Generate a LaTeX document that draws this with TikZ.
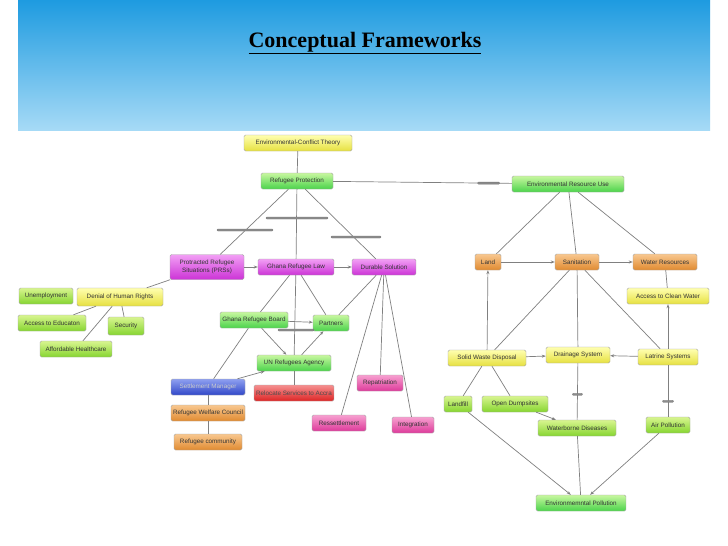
\documentclass[tikz,border=0pt]{standalone}
\usepackage{fontspec}
\setmainfont{Liberation Serif}
\newfontfamily\boxfont{Liberation Sans}
\usetikzlibrary{arrows.meta}
\definecolor{gA}{HTML}{C8F7A0}\definecolor{gB}{HTML}{4BD34B}
\definecolor{yA}{HTML}{FFFFB0}\definecolor{yB}{HTML}{E6E040}
\definecolor{mA}{HTML}{F2A0F5}\definecolor{mB}{HTML}{CC33D6}
\definecolor{pA}{HTML}{F7A0D0}\definecolor{pB}{HTML}{DD3A9A}
\definecolor{oA}{HTML}{F8C890}\definecolor{oB}{HTML}{E08A30}
\definecolor{lA}{HTML}{D8F590}\definecolor{lB}{HTML}{86D530}
\definecolor{bA}{HTML}{8FA0F0}\definecolor{bB}{HTML}{3047C8}
\definecolor{rA}{HTML}{F59090}\definecolor{rB}{HTML}{DD2525}
\definecolor{hA}{HTML}{1E9BE0}\definecolor{hB}{HTML}{A6DAF6}
\tikzset{
 x=1pt,y=-1pt,
 box/.style={rounded corners=1.5pt,draw=black!35,line width=0.4pt,font=\boxfont\fontsize{6.3}{7.3}\selectfont,inner sep=1pt,align=center,text=black!80,minimum height=16pt},
 grn/.style={box,top color=gA,bottom color=gB},
 lgr/.style={box,top color=lA,bottom color=lB},
 yel/.style={box,top color=yA,bottom color=yB},
 mag/.style={box,top color=mA,bottom color=mB},
 pnk/.style={box,top color=pA,bottom color=pB},
 org/.style={box,top color=oA,bottom color=oB},
 blu/.style={box,top color=bA,bottom color=bB,text=white!80!black},
 red/.style={box,top color=rA,bottom color=rB,text=black!70},
 ln/.style={draw=black!50,line width=0.7pt},
 ar/.style={ln,-{Stealth[length=4pt,width=3pt]}},
 bar/.style={fill=black!45,draw=black!55,line width=0.3pt,rounded corners=0.8pt,minimum width=#1,minimum height=2pt,inner sep=0pt},
}
\begin{document}
\begin{tikzpicture}
\useasboundingbox (0,0) rectangle (728,546);
\fill[white] (0,0) rectangle (728,546);
\shade[top color=hA,bottom color=hB] (18,0) rectangle (710,130);
\node[font=\bfseries\fontsize{22}{26}\selectfont] (title) at (365,43) {\underline{Conceptual Frameworks}};

\node[yel,minimum width=108pt] (ect) at (298,143) {Environmental-Conflict Theory};
\node[grn,minimum width=72pt] (rp) at (297,181) {Refugee Protection};
\node[grn,minimum width=112pt] (eru) at (568,184) {Environmental Resource Use};
\node[mag,minimum width=74pt,minimum height=25pt] (prs) at (207,267) {Protracted Refugee\\Situations (PRSs)};
\node[mag,minimum width=76pt] (grl) at (296,267) {Ghana Refugee Law};
\node[mag,minimum width=64pt] (ds) at (384,267) {Durable Solution};
\node[yel,minimum width=86pt,minimum height=18pt] (dhr) at (120,297) {Denial of Human Rights};
\node[lgr,minimum width=54pt] (un) at (46,296) {Unemployment};
\node[lgr,minimum width=68pt] (ae) at (52,323) {Access to Educaton};
\node[lgr,minimum width=36pt,minimum height=18pt] (sec) at (126,326) {Security};
\node[lgr,minimum width=72pt] (ah) at (76,349) {Affordable Healthcare};
\node[grn,minimum width=68pt] (grb) at (254,320) {Ghana Refugee Board};
\node[grn,minimum width=36pt] (par) at (331,323) {Partners};
\node[grn,minimum width=74pt] (unra) at (294,363) {UN Refugees Agency};
\node[blu,minimum width=74pt] (sm) at (208,387) {Settlement Manager};
\node[red,minimum width=80pt] (rsa) at (294,393) {Relocate Services to Accra};
\node[org,minimum width=74pt] (rwc) at (208,413) {Refugee Welfare Council};
\node[org,minimum width=68pt] (rc) at (208,442) {Refugee community};
\node[pnk,minimum width=46pt] (rep) at (380,383) {Repatriation};
\node[pnk,minimum width=54pt] (res) at (339,423) {Ressettlement};
\node[pnk,minimum width=42pt] (int) at (413,425) {Integration};

\node[org,minimum width=26pt] (land) at (488,262) {Land};
\node[org,minimum width=44pt] (san) at (577,262) {Sanitation};
\node[org,minimum width=64pt] (wr) at (665,262) {Water Resources};
\node[yel,minimum width=82pt] (acw) at (668,296) {Access to Clean Water};
\node[yel,minimum width=78pt] (swd) at (487,358) {Solid Waste Disposal};
\node[yel,minimum width=64pt] (dr) at (578,355) {Drainage System};
\node[yel,minimum width=60pt] (lat) at (668,357) {Latrine Systems};
\node[lgr,minimum width=28pt] (lf) at (458,404) {Landfill};
\node[lgr,minimum width=66pt] (od) at (515,404) {Open Dumpsites};
\node[lgr,minimum width=78pt] (wd) at (577,428) {Waterborne Diseases};
\node[lgr,minimum width=44pt] (ap) at (668,425) {Air Pollution};
\node[grn,minimum width=90pt] (ep) at (581,503) {Environmemntal Pollution};

\path[ln] (ect) -- (rp);
\path[ln] (rp) -- (eru) node[bar=22pt,pos=0.87] (b1) {};
\path[ln] (rp) -- (prs);
\node[bar=56pt] (b2) at (245,230) {};
\path[ln] (rp) -- (grl);
\node[bar=62pt] (b3) at (297,218) {};
\path[ln] (rp) -- (ds);
\node[bar=50pt] (b4) at (356,237) {};
\path[ar] (prs) -- (grl);
\path[ar] (grl) -- (ds);
\path[ln] (prs) -- (dhr);
\path[ln] (dhr) -- (ae);
\path[ln] (dhr) -- (sec);
\path[ln] (dhr) -- (ah);
\path[ln] (grl) -- (grb);
\path[ln] (grl) -- (unra);
\path[ln] (grl) -- (par);
\path[ar] (grb) -- (par);
\node[bar=36pt] (b5) at (296,330) {};
\path[ar] (grb) -- (unra);
\path[ar] (unra) -- (par);
\path[ln] (grb) -- (sm);
\path[ar] (sm) -- (unra);
\path[ln] (unra) -- (rsa);
\path[ln] (sm) -- (rwc);
\path[ln] (rwc) -- (rc);
\path[ln] (ds) -- (par);
\path[ln] (ds) -- (res);
\path[ln] (ds) -- (rep);
\path[ln] (ds) -- (int);

\path[ln] (eru) -- (land);
\path[ln] (eru) -- (san);
\path[ln] (eru) -- (wr);
\path[ar] (land) -- (san);
\path[ar] (san) -- (wr);
\path[ln] (wr) -- (acw);
\path[ar] (lat) -- (acw);
\path[ar] (swd) -- (land);
\path[ln] (swd) -- (san);
\path[ln] (dr) -- (san);
\path[ln] (lat) -- (san);
\path[ar] (swd) -- (dr);
\path[ar] (lat) -- (dr);
\path[ln] (swd) -- (lf);
\path[ln] (swd) -- (od);
\path[ar] (od) -- (wd);
\path[ln] (dr) -- (wd) node[bar=10pt,pos=0.55] (b6) {};
\path[ln] (lat) -- (ap) node[bar=11pt,pos=0.7] (b7) {};
\path[ar] (lf) -- (ep);
\path[ln] (wd) -- (ep);
\path[ar] (ap) -- (ep);
\end{tikzpicture}
\end{document}
